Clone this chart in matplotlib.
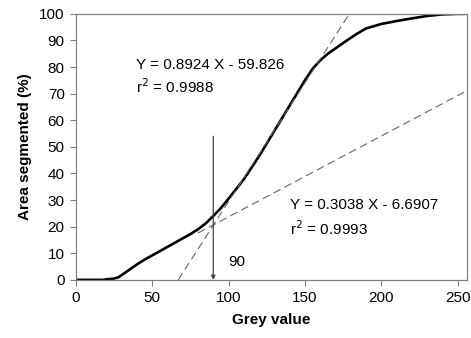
import numpy as np
import matplotlib.pyplot as plt

plt.rcParams['font.family'] = ['Liberation Sans', 'DejaVu Sans']

# cumulative area segmented vs grey value
grey = [0, 18, 20, 25, 28, 30, 33, 36, 40, 45, 50, 55, 60, 65, 70, 75, 80, 85, 90,
        95, 100, 110, 120, 130, 140, 150, 155, 160, 165, 170, 177, 184, 190, 200,
        210, 220, 230, 240, 250, 255]
area = [0, 0, 0.2, 0.5, 1.0, 1.8, 3.0, 4.2, 5.8, 7.6, 9.2, 10.8, 12.4, 14.0, 15.6,
        17.2, 19.0, 21.2, 24.0, 27.0, 30.5, 37.8, 46.5, 56.0, 65.5, 75.0, 79.3,
        82.5, 85.0, 87.0, 89.8, 92.5, 94.5, 96.2, 97.3, 98.3, 99.2, 99.8, 100, 100]

# linear fits
fit1 = (0.8924, -59.826)
fit2 = (0.3038, -6.6907)
threshold = 90

fig, ax = plt.subplots(figsize=(4.71, 3.38), dpi=100)
fig.subplots_adjust(left=0.161, right=0.991, top=0.959, bottom=0.172)

ax.plot(grey, area, color='black', lw=1.9, solid_capstyle='round')

x1 = np.array([-fit1[1] / fit1[0], (100 - fit1[1]) / fit1[0]])
ax.plot(x1, fit1[0] * x1 + fit1[1], color='#666666', lw=0.8, dashes=(7, 4))
x2 = np.array([80, 256])
ax.plot(x2, fit2[0] * x2 + fit2[1], color='#666666', lw=0.8, dashes=(7, 4))

ax.annotate('', xy=(threshold, 0), xytext=(threshold, 54),
            arrowprops=dict(arrowstyle='-|>', color='#444444', lw=0.9,
                            mutation_scale=6, shrinkA=0, shrinkB=0))
ax.text(99.5, 6.8, '90', fontsize=11, va='center')

ax.text(39.3, 80.8, 'Y = 0.8924 X - 59.826', fontsize=11, va='center')
ax.text(39.3, 72.7, 'r$^2$ = 0.9988', fontsize=11, va='center')
ax.text(140, 28.2, 'Y = 0.3038 X - 6.6907', fontsize=11, va='center')
ax.text(140, 19.2, 'r$^2$ = 0.9993', fontsize=11, va='center')

ax.set_xlim(0, 256)
ax.set_ylim(0, 100)
ax.set_xticks(range(0, 251, 50))
ax.set_yticks(range(0, 101, 10))
ax.tick_params(labelsize=11, length=4, width=0.8, color='#808080', pad=4)
for s in ax.spines.values():
    s.set_color('#808080')
    s.set_linewidth(0.9)

ax.set_xlabel('Grey value', fontsize=11, fontweight='bold', labelpad=6)
ax.set_ylabel('Area segmented (%)', fontsize=11, fontweight='bold', labelpad=5)

fig.savefig('out.png', dpi=100)
